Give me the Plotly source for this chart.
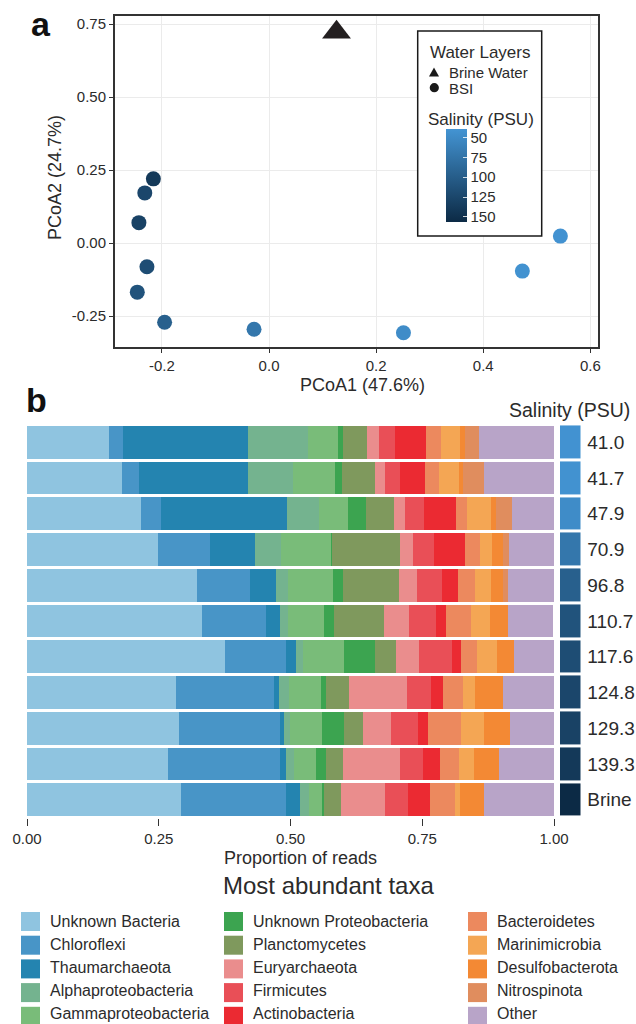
import plotly.graph_objects as go

W, H = 636, 1024
FONT = "Liberation Sans, Arial, sans-serif"
TXT = "#2b2b2b"

# ---------------- Panel a data (PCoA) ----------------
pcoa1 = [0.544, 0.473, 0.251, -0.028, -0.195, -0.246, -0.228, -0.232, -0.243, -0.216]
pcoa2 = [0.024, -0.096, -0.307, -0.295, -0.271, -0.168, -0.081, 0.172, 0.070, 0.220]
bsi_salinity = [41.0, 41.7, 47.9, 70.9, 96.8, 110.7, 117.6, 124.8, 129.3, 139.3]
brine_pcoa1 = [0.126]
brine_pcoa2 = [0.722]
salinity_ticks = [50, 75, 100, 125, 150]

# ---------------- Panel b data (taxa proportions) ----------------
samples = ["41.0", "41.7", "47.9", "70.9", "96.8", "110.7", "117.6", "124.8", "129.3", "139.3", "Brine"]
sample_salinity = [41.0, 41.7, 47.9, 70.9, 96.8, 110.7, 117.6, 124.8, 129.3, 139.3, 156.0]

taxa = ["Unknown Bacteria", "Chloroflexi", "Thaumarchaeota", "Alphaproteobacteria",
        "Gammaproteobacteria", "Unknown Proteobacteria", "Planctomycetes", "Euryarchaeota",
        "Firmicutes", "Actinobacteria", "Bacteroidetes", "Marinimicrobia",
        "Desulfobacterota", "Nitrospinota", "Other"]
taxa_colors = ["#8FC4E0", "#4895C7", "#2484B0", "#74B38F", "#79BC79", "#3CA450", "#7F995D",
               "#EA8D8D", "#E94F57", "#EB2A32", "#EC895E", "#F4A654", "#F38934", "#E08D5E",
               "#B8A4C8"]

unknown_bacteria = [.156, .180, .216, .249, .323, .332, .376, .283, .288, .268, .292]
chloroflexi = [.027, .032, .038, .099, .101, .121, .116, .186, .192, .213, .199]
thaumarchaeota = [.237, .207, .239, .085, .049, .028, .019, .009, .008, .011, .027]
alphaproteobacteria = [.113, .085, .061, .049, .023, .015, .013, .019, .011, .015, .017]
gammaproteobacteria = [.057, .080, .055, .095, .085, .068, .078, .061, .061, .042, .025]
unknown_proteobacteria = [.009, .013, .034, .002, .019, .019, .059, .009, .042, .019, .003]
planctomycetes = [.047, .063, .053, .129, .106, .095, .040, .044, .036, .032, .032]
euryarchaeota = [.021, .019, .021, .025, .034, .047, .042, .110, .053, .108, .085]
firmicutes = [.032, .028, .036, .040, .047, .051, .063, .046, .051, .044, .043]
actinobacteria = [.059, .049, .061, .059, .030, .019, .017, .023, .019, .032, .042]
bacteroidetes = [.028, .025, .021, .028, .034, .047, .030, .038, .063, .036, .047]
marinimicrobia = [.036, .038, .046, .023, .030, .036, .038, .023, .044, .028, .009]
desulfobacterota = [.009, .009, .009, .021, .023, .034, .034, .053, .049, .047, .046]
nitrospinota = [.026, .040, .030, .011, .008, 0, 0, 0, 0, 0, 0]
other = [.143, .133, .082, .087, .089, .087, .078, .099, .085, .106, .134]

taxa_values = [unknown_bacteria, chloroflexi, thaumarchaeota, alphaproteobacteria,
               gammaproteobacteria, unknown_proteobacteria, planctomycetes, euryarchaeota,
               firmicutes, actinobacteria, bacteroidetes, marinimicrobia, desulfobacterota,
               nitrospinota, other]

prop_ticks = [0, 0.25, 0.5, 0.75, 1.0]
prop_ticktext = ["0.00", "0.25", "0.50", "0.75", "1.00"]

# ---------------- helpers ----------------
def fx(x):
    return x / W


def fy(y):
    return 1 - y / H


LIGHT, DARK = "#4394D3", "#0C2A45"
SAL_MIN, SAL_MAX = 39, 156

fig = go.Figure()

# Panel a: BSI points (colour uses negated salinity so the colourbar runs light->dark downward)
fig.add_trace(go.Scatter(
    x=pcoa1, y=pcoa2, mode="markers", xaxis="x", yaxis="y", showlegend=False,
    marker=dict(size=15, symbol="circle", color=[-s for s in bsi_salinity],
                colorscale=[[0, DARK], [1, LIGHT]], cmin=-SAL_MAX, cmax=-SAL_MIN,
                showscale=True, line=dict(width=0),
                colorbar=dict(
                    x=fx(446), xanchor="left", xref="paper", xpad=0,
                    y=fy(128.7), yanchor="top", yref="paper", ypad=0,
                    len=93, lenmode="pixels", thickness=20.5, outlinewidth=0,
                    tickvals=[-t for t in salinity_ticks], ticktext=[str(t) for t in salinity_ticks],
                    ticks="inside", ticklen=4, tickcolor="rgba(255,255,255,0.8)",
                    tickfont=dict(size=15, color=TXT, family=FONT),
                ))))
fig.add_trace(go.Scatter(
    x=brine_pcoa1, y=brine_pcoa2, mode="markers", xaxis="x", yaxis="y", showlegend=False,
    marker=dict(size=25, symbol="triangle-up", color="#231F20", line=dict(width=0))))

# Panel b: stacked bars
for name, vals, col in zip(taxa, taxa_values, taxa_colors):
    fig.add_trace(go.Bar(
        x=vals, y=samples, orientation="h", name=name, xaxis="x2", yaxis="y2",
        marker=dict(color=col, line=dict(width=0)), showlegend=False))

# Panel b: salinity column
fig.add_trace(go.Heatmap(
    z=[[s] for s in sample_salinity], x=[0], y=samples, xaxis="x3", yaxis="y3",
    colorscale=[[0, LIGHT], [1, DARK]], zmin=SAL_MIN, zmax=SAL_MAX, showscale=False,
    ygap=3, hoverinfo="skip"))

# ---------------- layout ----------------
bar_top, pitch = 424.4, 35.75
bar_bottom = bar_top + pitch * len(samples)

fig.update_layout(
    width=W, height=H, autosize=False, margin=dict(l=0, r=0, t=0, b=0, pad=0),
    paper_bgcolor="white", plot_bgcolor="white",
    font=dict(family=FONT, color=TXT),
    barmode="stack", bargap=0.087,
    xaxis=dict(domain=[fx(114.8), fx(598.4)], range=[-0.288, 0.615], anchor="y", automargin=False,
               tickvals=[-0.2, 0.0, 0.2, 0.4, 0.6], ticktext=["-0.2", "0.0", "0.2", "0.4", "0.6"],
               showgrid=True, gridcolor="#EBEBEB", gridwidth=1, zeroline=False,
               showline=True, mirror=True, linecolor="#333333", linewidth=1.5,
               ticks="outside", ticklen=4, tickcolor="#333333",
               tickfont=dict(size=15, color=TXT)),
    yaxis=dict(domain=[fy(347), fy(16)], range=[-0.356, 0.778], anchor="x", automargin=False,
               tickvals=[-0.25, 0.0, 0.25, 0.5, 0.75],
               ticktext=["-0.25", "0.00", "0.25", "0.50", "0.75"],
               showgrid=True, gridcolor="#EBEBEB", gridwidth=1, zeroline=False,
               showline=True, mirror=True, linecolor="#333333", linewidth=1.5,
               ticks="outside", ticklen=4, tickcolor="#333333",
               tickfont=dict(size=15, color=TXT)),
    xaxis2=dict(domain=[fx(27), fx(554)], range=[0, 1], anchor="y2", automargin=False,
                tickvals=prop_ticks, ticktext=prop_ticktext,
                showgrid=False, zeroline=False, showline=False,
                ticks="outside", ticklen=7, tickcolor="#333333", tickwidth=1,
                tickfont=dict(size=15, color=TXT)),
    yaxis2=dict(domain=[fy(bar_bottom), fy(bar_top)], anchor="x2", type="category", automargin=False,
                categoryorder="array", categoryarray=samples,
                range=[len(samples) - 0.5, -0.5],
                showticklabels=False, ticks="", showgrid=False, zeroline=False, showline=False),
    xaxis3=dict(domain=[fx(560), fx(580.5)], range=[-0.5, 0.5], anchor="y3", visible=False,
                automargin=False),
    yaxis3=dict(domain=[fy(bar_bottom), fy(bar_top)], anchor="x3", side="right", type="category",
                automargin=False, categoryorder="array", categoryarray=samples,
                range=[len(samples) - 0.5, -0.5],
                showgrid=False, zeroline=False, showline=False,
                ticks="outside", ticklen=2, tickcolor="rgba(0,0,0,0)",
                tickfont=dict(size=19, color=TXT)),
)

shapes = []
annotations = []

# panel a legend box
shapes.append(dict(type="rect", xref="paper", yref="paper",
                   x0=fx(417.7), x1=fx(541.7), y0=fy(236), y1=fy(31),
                   line=dict(color="#1a1a1a", width=1.5), fillcolor="white", layer="above"))
# legend symbols
tx, ty = 434, 72
shapes.append(dict(type="path", xref="paper", yref="paper",
                   path=f"M {fx(tx-5)},{fy(ty+4.5)} L {fx(tx+5)},{fy(ty+4.5)} L {fx(tx)},{fy(ty-4.5)} Z",
                   fillcolor="#1a1a1a", line=dict(width=0), layer="above"))
cx, cy = 434.3, 87.7
shapes.append(dict(type="circle", xref="paper", yref="paper",
                   x0=fx(cx-4.6), x1=fx(cx+4.6), y0=fy(cy+4.6), y1=fy(cy-4.6),
                   fillcolor="#1a1a1a", line=dict(width=0), layer="above"))


def ann(text, x, y, size, xanchor="left", yanchor="middle", **kw):
    annotations.append(dict(text=text, x=fx(x), y=fy(y), xref="paper", yref="paper",
                            xanchor=xanchor, yanchor=yanchor, showarrow=False,
                            font=dict(size=size, color=kw.pop("color", TXT), family=FONT), **kw))


ann("Water Layers", 427.7, 52.5, 17)
ann("Brine Water", 446.5, 72, 15)
ann("BSI", 446.5, 88, 15)
ann("Salinity (PSU)", 425.5, 119.5, 17)

# panel labels and axis titles
ann("<b>a</b>", 29, 24, 34, color="#111111")
ann("<b>b</b>", 24, 400, 34, color="#111111")
ann("PCoA1 (47.6%)", 362, 385, 18, xanchor="center")
ann("PCoA2 (24.7%)", 55, 178, 18, xanchor="center", textangle=-90)
ann("Salinity (PSU)", 632, 409.5, 19.5, xanchor="right")
ann("Proportion of reads", 300, 858, 18, xanchor="center")
ann("Most abundant taxa", 328.5, 885.5, 24, xanchor="center")

# taxa legend (3 columns x 5 rows, column-major)
col_x = [21, 224, 468]
key_top, key_pitch, key = 912, 23.7, 19
text_top, text_pitch = 921.7, 23.0
for i, (name, col) in enumerate(zip(taxa, taxa_colors)):
    kx = col_x[i // 5]
    ky = key_top + (i % 5) * key_pitch
    shapes.append(dict(type="rect", xref="paper", yref="paper",
                       x0=fx(kx), x1=fx(kx + key), y0=fy(ky + key), y1=fy(ky),
                       fillcolor=col, line=dict(width=0)))
    ann(name, kx + 27, text_top + (i % 5) * text_pitch, 16)

fig.update_layout(shapes=shapes, annotations=annotations)

fig.write_html("out.html", config={"displayModeBar": False},
               post_script="document.body.style.margin='0';")
